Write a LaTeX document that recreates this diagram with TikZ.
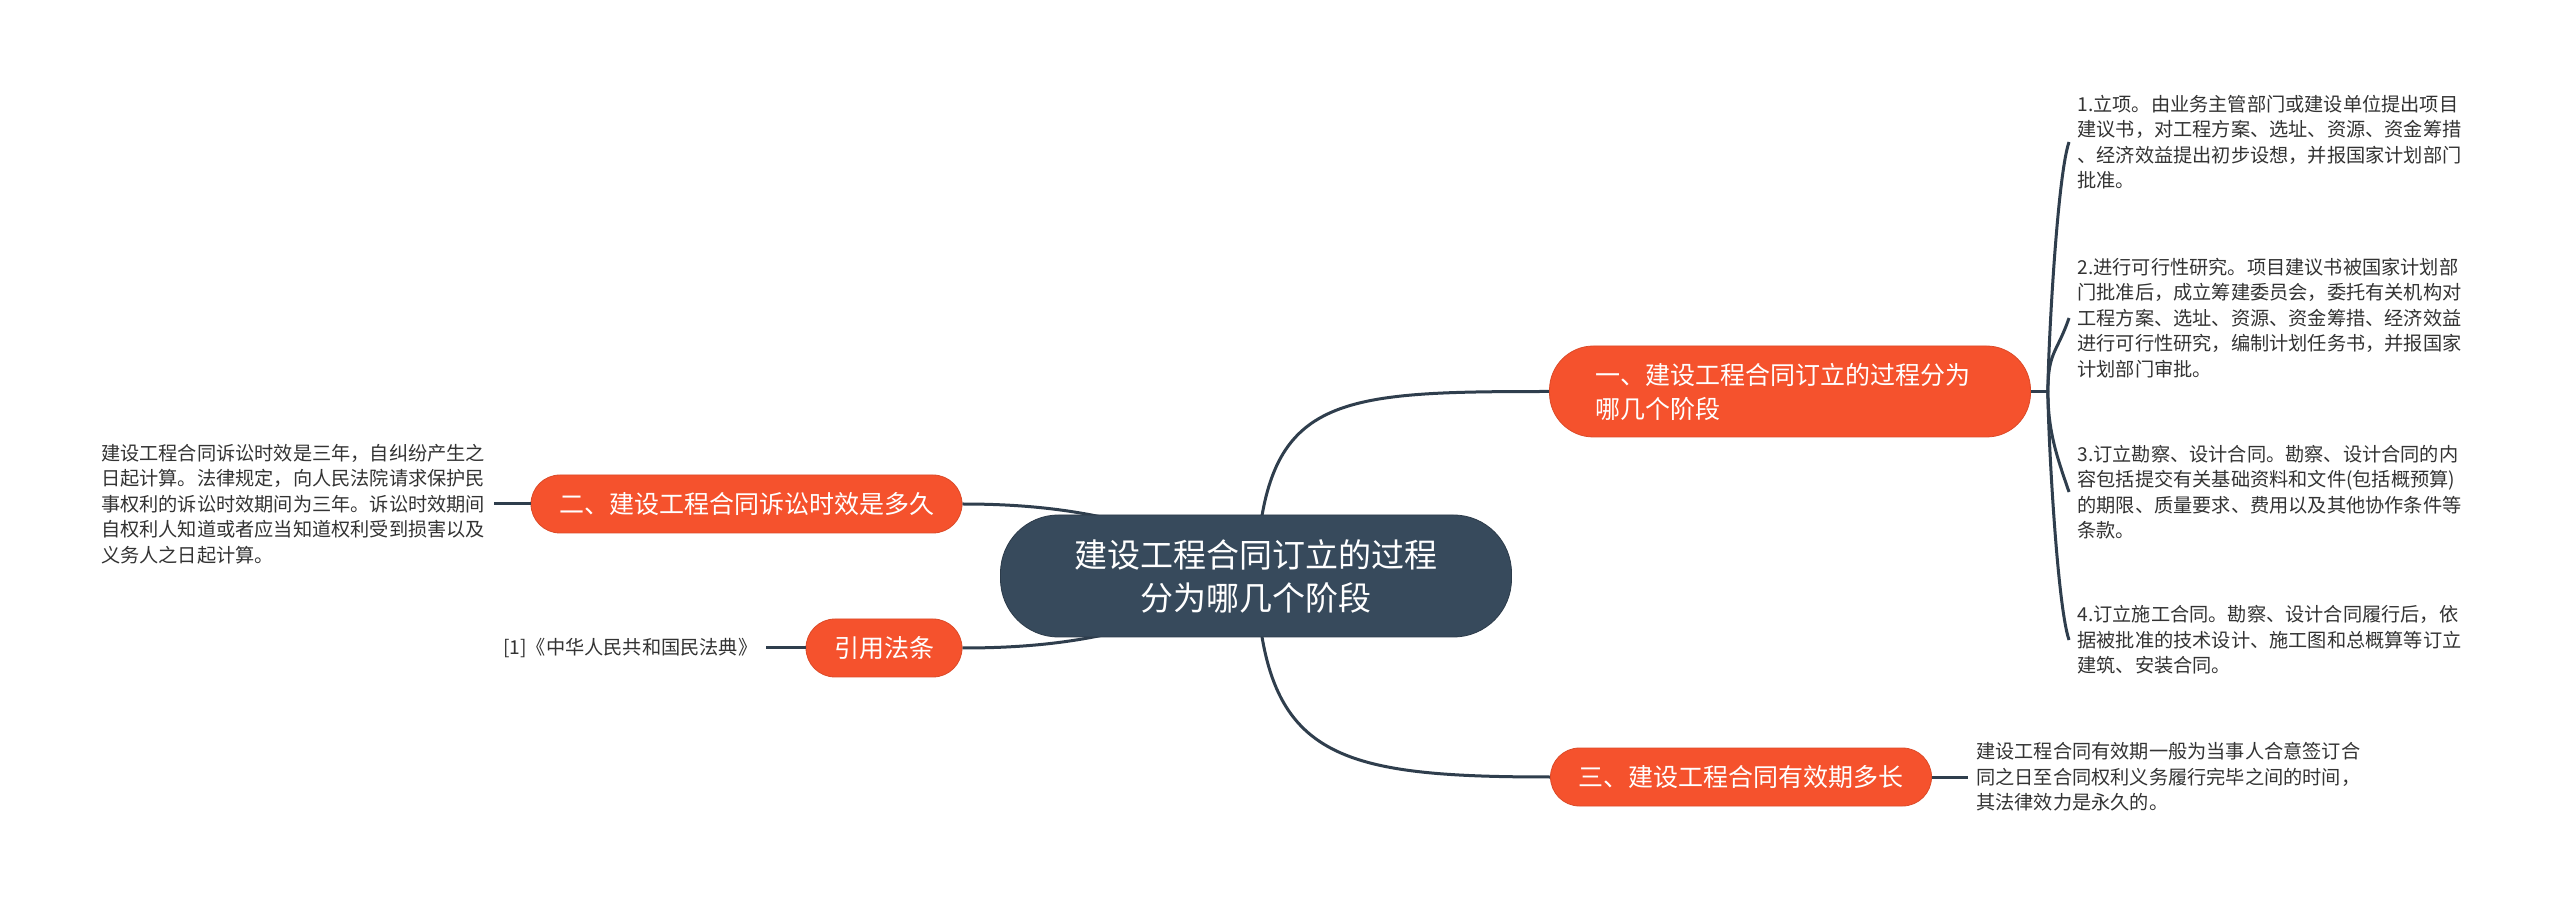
\documentclass[tikz,border=0pt]{standalone}
\usepackage{fontspec}
\setmainfont{Noto Sans CJK SC}
\usetikzlibrary{positioning,backgrounds}

\definecolor{topicorange}{HTML}{F5522D}
\definecolor{rootslate}{HTML}{374A5C}
\definecolor{linkslate}{HTML}{2F3E4D}
\definecolor{leaftext}{HTML}{333333}

\begin{document}
\begin{tikzpicture}[
    x=0.5pt, y=-0.5pt,
    root/.style={rectangle,rounded corners=29pt,fill=rootslate,draw=rootslate!80!black,text=white,align=center,minimum width=255.5pt,minimum height=61pt,font=\fontsize{16.5pt}{21.5pt}\selectfont},
    branch/.style={rectangle,rounded corners=14.5pt,fill=topicorange,draw=topicorange!90!black,text=white,inner xsep=14pt,minimum height=29pt,font=\fontsize{12.5pt}{17pt}\selectfont},
    leaf/.style={align=left,inner xsep=4pt,text=leaftext,font=\fontsize{9.6pt}{12.7pt}\selectfont},
    link/.style={draw=linkslate,line width=1.5pt}]

    \useasboundingbox (0,0) rectangle (2560,908);

    % Central topic
    \node[root] (root) at (1256,576) {建设工程合同订立的过程\\分为哪几个阶段};

    % Main branches
    \node[branch, align=left, text width=194.5pt, inner xsep=23pt, minimum height=45.5pt, rounded corners=22pt] (b1) at (1790,391.5) {一、建设工程合同订立的过程分为\\哪几个阶段};
    \node[branch] (b3) at (1741,777) {三、建设工程合同有效期多长};
    \node[branch] (b2) at (746.5,504) {二、建设工程合同诉讼时效是多久};
    \node[branch] (cite) at (884,648) {引用法条};

    % Details of branch one
    \node[leaf, anchor=west] (l1) at (2069,142) {1.立项。由业务主管部门或建设单位提出项目\\建议书，对工程方案、选址、资源、资金筹措\\、经济效益提出初步设想，并报国家计划部门\\批准。};
    \node[leaf, anchor=west] (l2) at (2069,318) {2.进行可行性研究。项目建议书被国家计划部\\门批准后，成立筹建委员会，委托有关机构对\\工程方案、选址、资源、资金筹措、经济效益\\进行可行性研究，编制计划任务书，并报国家\\计划部门审批。};
    \node[leaf, anchor=west] (l3) at (2069,492) {3.订立勘察、设计合同。勘察、设计合同的内\\容包括提交有关基础资料和文件(包括概预算)\\的期限、质量要求、费用以及其他协作条件等\\条款。};
    \node[leaf, anchor=west] (l4) at (2069,640) {4.订立施工合同。勘察、设计合同履行后，依\\据被批准的技术设计、施工图和总概算等订立\\建筑、安装合同。};
    \coordinate[right=8.5pt of b1.east] (spine);

    % Details of the other branches
    \node[leaf, right=18pt of b3] (l5) {建设工程合同有效期一般为当事人合意签订合\\同之日至合同权利义务履行完毕之间的时间，\\其法律效力是永久的。};
    \node[leaf, left=18.5pt of b2] (l6) {建设工程合同诉讼时效是三年，自纠纷产生之\\日起计算。法律规定，向人民法院请求保护民\\事权利的诉讼时效期间为三年。诉讼时效期间\\自权利人知道或者应当知道权利受到损害以及\\义务人之日起计算。};
    \node[leaf, left=20pt of cite] (l7) {[1]《中华人民共和国民法典》};

    % Connectors
    \begin{pgfonlayer}{background}
        \fill[white] (0,0) rectangle (2560,908);
        \path[link] (root.center) .. controls +(8,-180) and +(-220,0) .. (b1.west);
        \path[link] (root.center) .. controls +(8,180) and +(-220,0) .. (b3.west);
        \path[link] (root.center) .. controls +(-106,-61) and +(87,0) .. (b2.east);
        \path[link] (root.center) .. controls +(-106,62) and +(87,0) .. (cite.east);
    \end{pgfonlayer}
    \path[link] (b1.east) -- (spine);
    \foreach \l in {l1,l2}
        \path[link] (spine) .. controls +(0,-40) and +(-12,35) .. (\l.west);
    \foreach \l in {l3,l4}
        \path[link] (spine) .. controls +(0,40) and +(-12,-35) .. (\l.west);
    \path[link] (b3.east) -- (l5.west);
    \path[link] (b2.west) -- (l6.east);
    \path[link] (cite.west) -- (l7.east);
\end{tikzpicture}
\end{document}
